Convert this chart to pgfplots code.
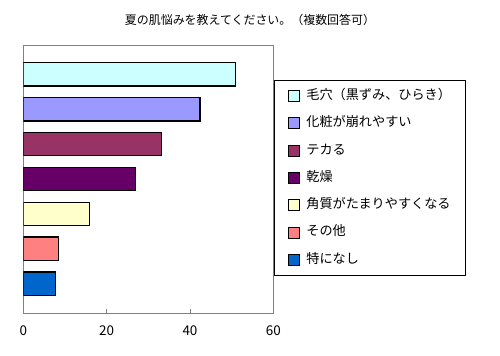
\documentclass[border=0pt]{standalone}
\usepackage{fontspec}
\setmainfont{Noto Sans CJK JP}
\usepackage{pgfplots}
\pgfplotsset{compat=1.18}
\definecolor{c1}{HTML}{CCFFFF}
\definecolor{c2}{HTML}{9999FF}
\definecolor{c3}{HTML}{993366}
\definecolor{c4}{HTML}{660066}
\definecolor{c5}{HTML}{FFFFCC}
\definecolor{c6}{HTML}{FF8080}
\definecolor{c7}{HTML}{0066CC}
\pgfplotsset{mybar/.style={xbar, bar shift=0pt, bar width=23.4bp, draw=black, line width=1.2bp, fill=#1}}
\begin{document}
\begin{tikzpicture}[x=1bp,y=1bp]
\useasboundingbox (0,0) rectangle (500,355);
\node[font=\fontsize{12}{14}\selectfont] at (250,335) {夏の肌悩みを教えてください。（複数回答可）};
\begin{axis}[
  at={(23.3bp,42bp)}, anchor=south west,
  scale only axis, width=250bp, height=268bp,
  xmin=0, xmax=60, ymin=-0.84, ymax=6.84,
  xtick={0,20,40,60}, ytick=\empty,
  axis line style={draw=gray, line width=0.8bp},
  tick align=inside, xtick pos=bottom,
  major tick length=4bp,
  tick style={gray, line width=0.8bp},
  tick label style={font=\fontsize{13.5}{15}\selectfont},
  xticklabel style={yshift=-9bp},
  /pgf/number format/assume math mode=true,
  legend image code/.code={\draw[#1, line width=0.8bp] (0bp,-5.5bp) rectangle (11bp,5.5bp); \path (17bp,0bp);},
  legend style={at={(1.0028,0.869)}, anchor=north west, draw=black, line width=0.7bp,
    inner xsep=14bp, inner ysep=9.5bp, row sep=15.3bp,
    font=\fontsize{13.2}{15}\selectfont,
    nodes={inner sep=0pt, text height=9.5bp, text depth=2.5bp},
    cells={anchor=west}},
]
\addplot[mybar=c1] coordinates {(50.9,6)};
\addlegendentry{毛穴（黒ずみ、ひらき）}
\addplot[mybar=c2] coordinates {(42.4,5)};
\addlegendentry{化粧が崩れやすい}
\addplot[mybar=c3] coordinates {(33.2,4)};
\addlegendentry{テカる}
\addplot[mybar=c4] coordinates {(27.0,3)};
\addlegendentry{乾燥}
\addplot[mybar=c5] coordinates {(15.8,2)};
\addlegendentry{角質がたまりやすくなる}
\addplot[mybar=c6] coordinates {(8.4,1)};
\addlegendentry{その他}
\addplot[mybar=c7] coordinates {(7.8,0)};
\addlegendentry{特になし}
\end{axis}
\end{tikzpicture}
\end{document}
